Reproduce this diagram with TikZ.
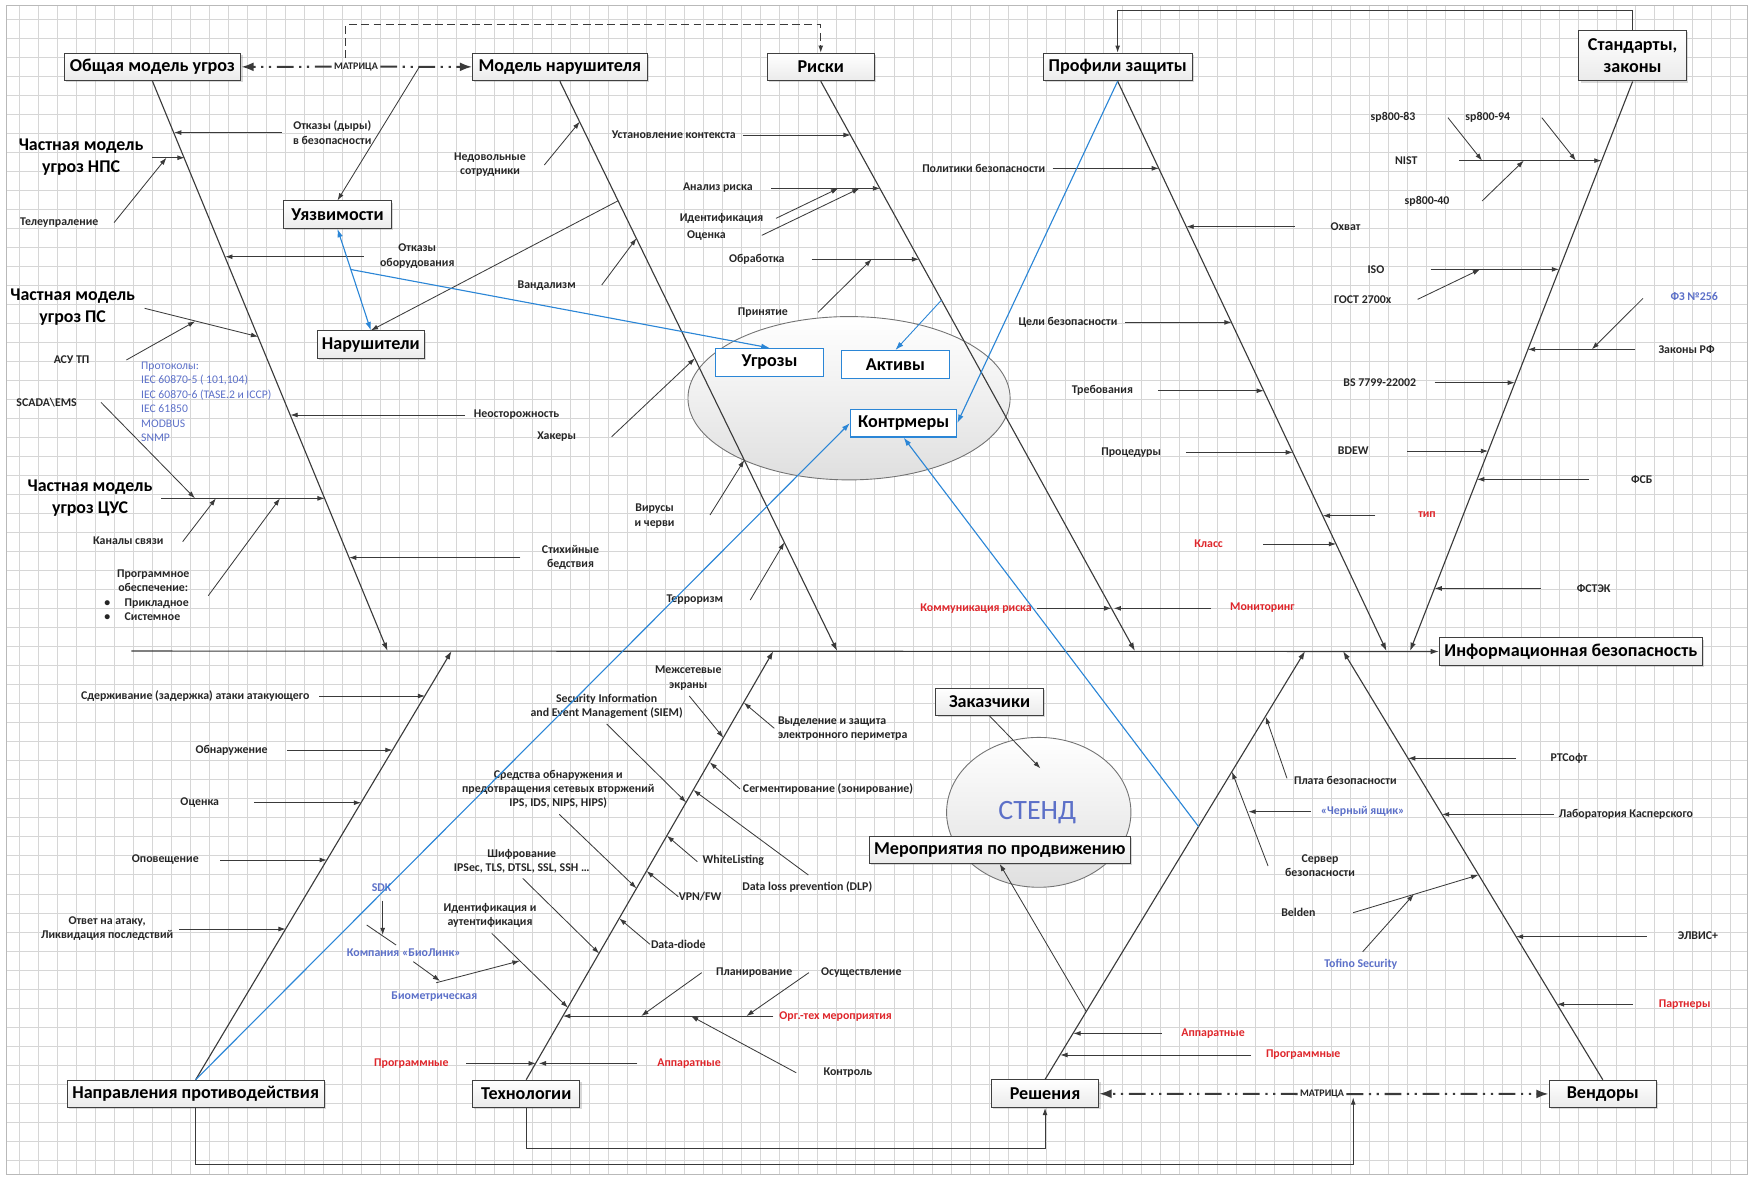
\documentclass[tikz,border=0pt]{standalone}
\usepackage{fontspec}
\setmainfont{Carlito}
\usetikzlibrary{arrows.meta,shadows,calc}
\definecolor{bone}{RGB}{58,58,58}
\definecolor{link}{RGB}{43,134,214}
\definecolor{note}{RGB}{92,112,200}
\definecolor{warn}{RGB}{222,38,43}

\begin{document}
\begin{tikzpicture}[x=1pt, y=-1pt,
    gridl/.style={draw=gray!32, line width=0.5pt},
    box/.style={draw=black!75, line width=0.9pt, top color=white, bottom color=gray!16,
                drop shadow={shadow xshift=1.6pt, shadow yshift=-1.6pt, opacity=0.3},
                minimum height=24.5pt, inner sep=1pt, font=\fontsize{16.2}{19}\selectfont\bfseries},
    keybox/.style={draw=link, line width=1pt, fill=white, minimum height=25pt, inner sep=1pt,
                font=\fontsize{16.2}{19}\selectfont\bfseries},
    big/.style={align=center, inner sep=1pt, font=\fontsize{16}{19.5}\selectfont\bfseries},
    lbl/.style={align=center, inner sep=1pt, text=black!85, font=\fontsize{10.6}{12.8}\selectfont\bfseries},
    red lbl/.style={lbl, text=warn},
    blue lbl/.style={lbl, text=note},
    mlbl/.style={inner sep=2pt, text=black!85, font=\fontsize{9}{10}\selectfont\bfseries},
    arr/.style={-{Latex[length=6.5pt,width=4.4pt]}, draw=bone, line width=0.75pt},
    rib/.style={draw=bone, line width=0.75pt},
    spine/.style={-{Latex[length=7.5pt,width=5pt]}, draw=bone, line width=1pt},
    link arr/.style={-{Latex[length=7.5pt,width=5pt]}, draw=link, line width=1pt},
    link both/.style={{Latex[length=7.5pt,width=5pt]}-{Latex[length=7.5pt,width=5pt]}, draw=link, line width=1pt},
    matr/.style={-{Latex[length=11pt,width=8pt]}, draw=bone, line width=1.8pt,
                 dash pattern=on 15pt off 5pt on 2pt off 5pt on 2pt off 5pt},
]
    \useasboundingbox (0,0) rectangle (1568,1054);
    \draw[gridl, step=17pt] (6,5) grid (1562,1050);
    \draw[gray!55, line width=0.8pt] (6,5) rectangle (1562,1050);

    \draw[draw=black!55, line width=0.8pt, top color=white, bottom color=gray!25]
        (759,356) ellipse [x radius=144pt, y radius=73pt];
    \draw[draw=black!55, line width=0.8pt, top color=white, bottom color=gray!25]
        (928.6,726.2) ellipse [x radius=82.4pt, y radius=67pt];
    \node[font=\fontsize{25}{28}\selectfont, text=note] (stend) at (927.3,726.2) {СТЕНД};

    \node[box, minimum width=158pt] (obsh) at (136.3,59.9) {Общая модель угроз};
    \node[box, minimum width=156pt] (modN) at (500.5,59.9) {Модель нарушителя};
    \node[box, minimum width=96pt] (riski) at (733.7,59.9) {Риски};
    \node[box, minimum width=133pt] (prof) at (999.1,59.9) {Профили защиты};
    \node[box, minimum width=96pt, minimum height=45pt, align=center,
          font=\fontsize{16.2}{19.5}\selectfont\bfseries] (std) at (1459.5,49.9) {Стандарты,\\законы};
    \node[box, minimum width=96pt] (uyazv) at (301.7,191.9) {Уязвимости};
    \node[box, minimum width=96pt] (narush) at (331.5,308.1) {Нарушители};
    \node[keybox, minimum width=96pt] (ugroz) at (688,324) {Угрозы};
    \node[keybox, minimum width=96pt] (aktiv) at (800.5,325.9) {Активы};
    \node[keybox, minimum width=95pt] (kontr) at (807.8,378.2) {Контрмеры};
    \node[box, minimum width=96pt] (zakaz) at (884.6,627.3) {Заказчики};
    \node[box, minimum width=233pt] (meropr) at (893.7,759.6) {Мероприятия по продвижению};
    \node[box, minimum width=235pt] (info) at (1404.3,582.4) {Информационная безопасность};
    \node[box, minimum width=230pt] (napr) at (174.9,977.9) {Направления противодействия};
    \node[box, minimum width=96pt] (tech) at (470.4,977.9) {Технологии};
    \node[box, minimum width=96pt] (resh) at (934.2,977.7) {Решения};
    \node[box, minimum width=96pt] (vend) at (1432.8,977.9) {Вендоры};

    \node[mlbl] (matrT) at (318.2,59.6) {МАТРИЦА};
    \node[mlbl] (matrB) at (1181.9,978) {МАТРИЦА};

    \node[lbl] (otkD) at (297,118.5) {Отказы (дыры)\\в безопасности};
    \node[big] (nps) at (72.5,140.7) {Частная модель\\угроз НПС};
    \node[lbl] (tele) at (53,199) {Телеупраление};
    \node[lbl] (otkO) at (373,229) {Отказы\\оборудования};
    \node[big] (ps) at (65,274.8) {Частная модель\\угроз ПС};
    \node[lbl] (asu) at (64,321.8) {АСУ ТП};
    \node[anchor=west, align=left, inner sep=0pt, text=note, font=\fontsize{10.4}{12.9}\selectfont] (proto)
        at (126,359.2) {Протоколы:\\IEC 60870-5 ( 101,104)\\IEC 60870-6 (TASE.2 и ICCP)\\IEC 61850\\MODBUS\\SNMP};
    \node[lbl] (scada) at (41.7,359.7) {SCADA\textbackslash EMS};
    \node[big] (cus) at (80.5,445) {Частная модель\\угроз ЦУС};
    \node[lbl] (kan) at (114.7,483.4) {Каналы связи};
    \node[lbl] (po) at (137,519.2) {Программное\\обеспечение:};
    \node[lbl, anchor=west, align=left] (poList) at (92,545.3)
        {\textbullet\hspace{13pt}Прикладное\\\textbullet\hspace{13pt}Системное};
    \node[lbl] (neos) at (461.8,371) {Неосторожность};
    \node[lbl] (stix) at (510,498.3) {Стихийные\\бедствия};

    \node[lbl] (nedov) at (438,147) {Недовольные\\сотрудники};
    \node[lbl] (vand) at (488.7,255.4) {Вандализм};
    \node[lbl] (hak) at (497.6,390.4) {Хакеры};
    \node[lbl] (vir) at (585.2,461.4) {Вирусы\\и черви};
    \node[lbl] (terr) at (621.1,536.4) {Терроризм};

    \node[lbl] (ustk) at (602.4,120.7) {Установление контекста};
    \node[lbl] (anal) at (641.7,167.5) {Анализ риска};
    \node[lbl] (ident) at (645,195.2) {Идентификация};
    \node[lbl] (ocen) at (631.4,210.4) {Оценка};
    \node[lbl] (obr) at (676.6,231.8) {Обработка};
    \node[lbl] (prin) at (682,279.2) {Принятие};
    \node[red lbl] (komm) at (872.6,543.8) {Коммуникация риска};
    \node[red lbl] (monit) at (1128.5,543.3) {Мониторинг};

    \node[lbl] (polit) at (879.4,150.5) {Политики безопасности};
    \node[lbl] (ohv) at (1202.9,202.6) {Охват};
    \node[lbl] (celi) at (954.7,288.2) {Цели безопасности};
    \node[lbl] (treb) at (985.5,349.3) {Требования};
    \node[lbl] (proc) at (1011.2,404.7) {Процедуры};
    \node[red lbl] (tip) at (1275.7,460.4) {тип};
    \node[red lbl] (klass) at (1080.4,485.7) {Класс};

    \node[lbl] (sp83) at (1245.3,105.2) {sp800-83};
    \node[lbl] (sp94) at (1330,105.2) {sp800-94};
    \node[lbl] (nist) at (1257.1,143.6) {NIST};
    \node[lbl] (sp40) at (1275.7,179.7) {sp800-40};
    \node[lbl] (iso) at (1230,240.8) {ISO};
    \node[lbl] (gost) at (1218.2,267.6) {ГОСТ 2700x};
    \node[blue lbl] (fz) at (1514.5,265.2) {ФЗ №256};
    \node[lbl] (zak) at (1507.7,312.3) {Законы РФ};
    \node[lbl] (bs) at (1233.4,342.1) {BS 7799-22002};
    \node[lbl] (bdew) at (1209.7,403.2) {BDEW};
    \node[lbl] (fsb) at (1467.7,428.5) {ФСБ};
    \node[lbl] (fstek) at (1424.7,526) {ФСТЭК};

    \node[lbl] (sder) at (174.5,622.2) {Сдерживание (задержка) атаки атакующего};
    \node[lbl] (obn) at (207,670.5) {Обнаружение};
    \node[lbl] (ocenN) at (178.6,717.6) {Оценка};
    \node[lbl] (opov) at (147.8,768.8) {Оповещение};
    \node[lbl] (otv) at (95.8,830.3) {Ответ на атаку,\\Ликвидация последствий};

    \node[lbl] (mezh) at (615.3,606.2) {Межсетевые\\экраны};
    \node[lbl, anchor=west, align=left] (vyd) at (694.3,651.2) {Выделение и защита\\электронного периметра};
    \node[lbl] (siem) at (542.3,631.5) {Security Information\\and Event Management (SIEM)};
    \node[lbl, anchor=west] (segm) at (663,705.3) {Сегментирование (зонирование)};
    \node[lbl] (sredst) at (499.1,705.7) {Средства обнаружения и\\предотвращения сетевых вторжений\\IPS, IDS, NIPS, HIPS)};
    \node[lbl] (dlp) at (721.7,792.7) {Data loss prevention (DLP)};
    \node[lbl] (white) at (655.6,768.8) {WhiteListing};
    \node[lbl] (shifr) at (466.4,770) {Шифрование\\IPSec, TLS, DTSL, SSL, SSH \dots};
    \node[lbl] (vpn) at (625.8,801.6) {VPN/FW};
    \node[lbl] (diode) at (606.4,844.2) {Data-diode};
    \node[lbl] (idaut) at (438,818.5) {Идентификация и\\аутентификация};
    \node[red lbl] (orgt) at (747,908.3) {Орг.-тех мероприятия};
    \node[lbl] (plan) at (674.2,869.5) {Планирование};
    \node[lbl] (osus) at (770,869.5) {Осуществление};
    \node[lbl] (ctrl) at (758,958.4) {Контроль};
    \node[red lbl] (progL) at (367.8,950.6) {Программные};
    \node[red lbl] (appL) at (616,950.6) {Аппаратные};
    \node[blue lbl] (sdk) at (341.1,793.2) {SDK};
    \node[blue lbl] (biol) at (361,851.7) {Компания «БиоЛинк»};
    \node[blue lbl] (biom) at (388.3,891) {Биометрическая};

    \node[red lbl] (appR) at (1084.4,923.8) {Аппаратные};
    \node[red lbl] (progR) at (1165,943.1) {Программные};
    \node[lbl, anchor=west] (plata) at (1155.6,697.3) {Плата безопасности};
    \node[blue lbl] (cher) at (1218.2,725.6) {«Черный ящик»};
    \node[lbl] (serv) at (1180,774) {Сервер\\безопасности};

    \node[lbl] (rts) at (1402.7,677.9) {РТСофт};
    \node[lbl] (kasp) at (1453.5,728) {Лаборатория Касперского};
    \node[lbl] (beld) at (1160.7,815.9) {Belden};
    \node[blue lbl] (tofino) at (1216.5,862.1) {Tofino Security};
    \node[lbl] (elvis) at (1517.9,836.8) {ЭЛВИС+};
    \node[red lbl] (partn) at (1506,897.8) {Партнеры};

    \coordinate (sp0) at (117.4,582);
    \coordinate (b1e) at (346.5,582);
    \coordinate (b2e) at (748.4,582);
    \coordinate (b3e) at (1014.6,582);
    \coordinate (b4e) at (1239.5,582);
    \coordinate (b5e) at (1260.5,582);
    \coordinate (c1e) at (403.7,582);
    \coordinate (c2e) at (691.3,582);
    \coordinate (c3e) at (1166.7,582);
    \coordinate (c4e) at (1200.6,582);

    \coordinate (otkDa) at (252,118.5);   \coordinate (otkDb) at (155.6,118.5);
    \coordinate (npsa) at (136,141);      \coordinate (npsb) at (165.1,141);
    \coordinate (telea) at (102,199);     \coordinate (teleb) at (148.8,141);
    \coordinate (otkOa) at (325,229.5);   \coordinate (otkOb) at (201.3,229.5);
    \coordinate (psa) at (129.3,275.6);   \coordinate (psb) at (230.8,301);
    \coordinate (asua) at (113,321.8);    \coordinate (asub) at (174.5,287.2);
    \coordinate (scadaa) at (90.3,359.7); \coordinate (scadab) at (174.3,445.5);
    \coordinate (cusa) at (144,445.5);    \coordinate (cusb) at (290.3,445.5);
    \coordinate (kana) at (163.3,484.2);  \coordinate (kanb) at (193,445.5);
    \coordinate (poa) at (186.2,532.5);   \coordinate (pob) at (250.3,445.5);
    \coordinate (neosa) at (415.7,371);   \coordinate (neosb) at (259.6,371);
    \coordinate (stixa) at (465.2,498.5); \coordinate (stixb) at (312.1,498.5);

    \coordinate (mvul) at (375,59.6);
    \coordinate (dsh) at (309,52);        \coordinate (dshc) at (733.7,22);
    \coordinate (stdc) at (999.1,9.5);

    \coordinate (nedova) at (486.6,147.5); \coordinate (nedovb) at (518.3,108.8);
    \coordinate (narb) at (552.7,179.4);
    \coordinate (vanda) at (537.9,254.8);  \coordinate (vandb) at (569,213);
    \coordinate (haka) at (546.8,390.4);   \coordinate (hakb) at (621.2,320.3);
    \coordinate (vira) at (634.7,460.4);   \coordinate (virb) at (665.4,411.2);
    \coordinate (terra) at (670.7,536.4);  \coordinate (terrb) at (701.2,484.8);

    \coordinate (ustka) at (663.9,120.7);  \coordinate (ustkb) at (760.5,120.7);
    \coordinate (anala) at (689.6,168.4);  \coordinate (analb) at (786.8,168.4);
    \coordinate (identa) at (693.7,195.2); \coordinate (identb) at (749.4,168.4);
    \coordinate (ocena) at (681,210.4);    \coordinate (ocenb) at (768.3,168.4);
    \coordinate (obra) at (725.5,231.8);   \coordinate (obrb) at (821.7,231.8);
    \coordinate (prina) at (731.3,279.2);  \coordinate (prinb) at (779.2,231.8);
    \coordinate (aktb) at (841.7,268.2);
    \coordinate (komma) at (927.3,543.8);  \coordinate (kommb) at (993.6,543.8);
    \coordinate (monita) at (1082.7,543.8); \coordinate (monitb) at (995.6,543.8);

    \coordinate (polita) at (941,150.5);   \coordinate (politb) at (1036.1,150.5);
    \coordinate (ohva) at (1157.3,202.6);  \coordinate (ohvb) at (1060.6,202.6);
    \coordinate (celia) at (1006,288.2);   \coordinate (celib) at (1101,288.2);
    \coordinate (treba) at (1035,349.3);   \coordinate (trebb) at (1129.8,349.3);
    \coordinate (proca) at (1060.1,404.4); \coordinate (procb) at (1155.8,404.4);
    \coordinate (tipa) at (1229.4,461);    \coordinate (tipb) at (1182.5,461);
    \coordinate (klassa) at (1129.1,486.3); \coordinate (klassb) at (1194.4,486.3);

    \coordinate (sp83a) at (1294.4,105.2); \coordinate (sp83b) at (1324.9,143.6);
    \coordinate (sp94a) at (1378.3,105.2); \coordinate (sp94b) at (1408.8,143.6);
    \coordinate (nista) at (1304.5,143.6); \coordinate (nistb) at (1431.7,143.6);
    \coordinate (sp40a) at (1324.9,179.7); \coordinate (sp40b) at (1362.2,143.6);
    \coordinate (isoa) at (1279,240.8);    \coordinate (isob) at (1393.7,240.8);
    \coordinate (gosta) at (1267.3,267.6); \coordinate (gostb) at (1323.1,240.8);
    \coordinate (fza) at (1468.8,266.7);   \coordinate (fzb) at (1423,312.3);
    \coordinate (zaka) at (1462,312.3);    \coordinate (zakb) at (1365.8,312.3);
    \coordinate (bsa) at (1282.5,342.1);   \coordinate (bsb) at (1354.2,342.1);
    \coordinate (bdewa) at (1257.8,403.2); \coordinate (bdewb) at (1330.3,403.2);
    \coordinate (fsba) at (1420.7,428.5);  \coordinate (fsbb) at (1320.4,428.5);
    \coordinate (fsteka) at (1377.4,526);  \coordinate (fstekb) at (1282.4,526);

    \coordinate (sdera) at (285.6,622.2);  \coordinate (sderb) at (380,622.2);
    \coordinate (obna) at (256.6,670.5);   \coordinate (obnb) at (350.9,670.5);
    \coordinate (ocenNa) at (227.5,717.6); \coordinate (ocenNb) at (322.8,717.6);
    \coordinate (opova) at (196.7,768.8);  \coordinate (opovb) at (292.2,768.8);
    \coordinate (otva) at (160.1,830.5);   \coordinate (otvb) at (255.4,830.5);

    \coordinate (mezha) at (616.2,622.2);  \coordinate (mezhb) at (646.7,659.5);
    \coordinate (vyda) at (692.2,651.1);   \coordinate (vydb) at (665,628.2);
    \coordinate (siema) at (542.3,647.2);  \coordinate (siemb) at (613.4,717.3);
    \coordinate (segma) at (661.5,705.3);  \coordinate (segmb) at (634.5,681.5);
    \coordinate (sredsta) at (500,728);    \coordinate (sredstb) at (569,794.1);
    \coordinate (dlpa) at (722.6,782.2);   \coordinate (dlpb) at (619.8,706.2);
    \coordinate (whitea) at (623.4,770.3); \coordinate (whiteb) at (596.2,747.1);
    \coordinate (shifra) at (467.3,785.2); \coordinate (shifrb) at (535.6,852.3);
    \coordinate (vpna) at (606.4,801.6);   \coordinate (vpnb) at (578,778.7);
    \coordinate (diodea) at (581.1,844.2); \coordinate (diodeb) at (553.6,821);
    \coordinate (idauta) at (439.6,834.4); \coordinate (idautb) at (507.7,900.8);
    \coordinate (orgta) at (691.3,908.3);  \coordinate (orgtb) at (503.3,908.3);
    \coordinate (plana) at (627.3,869.5);  \coordinate (planb) at (573.2,908.3);
    \coordinate (osusa) at (723.1,869.5);  \coordinate (osusb) at (667.3,908.3);
    \coordinate (ctrla) at (711.8,959);    \coordinate (ctrlb) at (617.7,908.3);
    \coordinate (progLa) at (416.7,950.6); \coordinate (progLb) at (479,950.6);
    \coordinate (appLa) at (569.8,950.6);  \coordinate (appLb) at (481.6,950.6);
    \coordinate (sdka) at (342.1,805.2);   \coordinate (sdkb) at (342.1,835.9);
    \coordinate (biola) at (327.8,826.9);  \coordinate (biolb) at (354.1,844.8);
    \coordinate (bioma) at (369.5,859.7);  \coordinate (biomb) at (393.4,877);
    \coordinate (bioca) at (390,878.5);    \coordinate (biocb) at (464.6,859);

    \coordinate (mera) at (971.2,904.4);
    \coordinate (appRa) at (1038.5,923.8); \coordinate (appRb) at (959.5,923.8);
    \coordinate (progRa) at (1118.4,943.1); \coordinate (progRb) at (947.8,943.1);
    \coordinate (cmr) at (1071.5,739);
    \coordinate (plataa) at (1150.5,695.8); \coordinate (platab) at (1131.5,640.7);
    \coordinate (serva) at (1133.6,774.2); \coordinate (servb) at (1101.3,689.9);
    \coordinate (chera) at (1171.8,725.6); \coordinate (cherb) at (1116,725.6);
    \coordinate (zakazb) at (930.1,686.9);

    \coordinate (rtsa) at (1355.3,677.9);  \coordinate (rtsb) at (1258.7,677.9);
    \coordinate (kaspa) at (1389.2,728);   \coordinate (kaspb) at (1289,728);
    \coordinate (belda) at (1209.7,815.9); \coordinate (beldb) at (1321.5,782.2);
    \coordinate (tofa) at (1218.2,850.8);  \coordinate (tofb) at (1263.9,799.5);
    \coordinate (elvisa) at (1472.2,837.3); \coordinate (elvisb) at (1355.2,837.3);
    \coordinate (partna) at (1459.7,897.8); \coordinate (partnb) at (1391.8,897.8);

    \coordinate (nBot) at (1209.7,1040.6); \coordinate (mB) at (1209.7,981);
    \coordinate (tBot) at (934.2,1026.6);

    \draw[spine] (sp0) -- (info.west);
    \draw[spine] (obsh.south) -- (b1e);
    \draw[spine] (modN.south) -- (b2e);
    \draw[spine] (riski.south) -- (b3e);
    \draw[spine] (prof.south) -- (b4e);
    \draw[spine] (std.south) -- (b5e);
    \draw[spine] (napr.north) -- (c1e);
    \draw[spine] (tech.north) -- (c2e);
    \draw[spine] (resh.north) -- (c3e);
    \draw[spine] (vend.north) -- (c4e);

    \draw[matr] (matrT) -- (obsh);
    \draw[matr] (matrT) -- (modN);
    \draw[matr] (matrB) -- (resh);
    \draw[matr] (matrB) -- (vend);
    \draw[arr, line width=0.9pt, dash pattern=on 7pt off 4pt] (dsh) |- (dshc) -- (riski.north);
    \draw[arr, line width=0.9pt] (std.north) |- (stdc) -- (prof.north);
    \draw[arr] (mvul) -- (uyazv.north);
    \draw[arr] (narb) -- (narush.north);
    \draw[arr, line width=0.9pt] (napr.south) |- (nBot) -- (mB);
    \draw[arr, line width=0.9pt] (tech.south) |- (tBot) -- (resh.south);

    \draw[arr] (otkDa) -- (otkDb);
    \draw[arr] (npsa) -- (npsb);
    \draw[arr] (telea) -- (teleb);
    \draw[arr] (otkOa) -- (otkOb);
    \draw[arr] (psa) -- (psb);
    \draw[arr] (asua) -- (asub);
    \draw[arr] (scadaa) -- (scadab);
    \draw[arr] (cusa) -- (cusb);
    \draw[arr] (kana) -- (kanb);
    \draw[arr] (poa) -- (pob);
    \draw[arr] (neosa) -- (neosb);
    \draw[arr] (stixa) -- (stixb);

    \draw[arr] (nedova) -- (nedovb);
    \draw[arr] (vanda) -- (vandb);
    \draw[arr] (haka) -- (hakb);
    \draw[arr] (vira) -- (virb);
    \draw[arr] (terra) -- (terrb);

    \draw[arr] (ustka) -- (ustkb);
    \draw[arr] (anala) -- (analb);
    \draw[arr] (identa) -- (identb);
    \draw[arr] (ocena) -- (ocenb);
    \draw[arr] (obra) -- (obrb);
    \draw[arr] (prina) -- (prinb);
    \draw[arr] (komma) -- (kommb);
    \draw[arr] (monita) -- (monitb);

    \draw[arr] (polita) -- (politb);
    \draw[arr] (ohva) -- (ohvb);
    \draw[arr] (celia) -- (celib);
    \draw[arr] (treba) -- (trebb);
    \draw[arr] (proca) -- (procb);
    \draw[arr] (tipa) -- (tipb);
    \draw[arr] (klassa) -- (klassb);

    \draw[arr] (sp83a) -- (sp83b);
    \draw[arr] (sp94a) -- (sp94b);
    \draw[arr] (nista) -- (nistb);
    \draw[arr] (sp40a) -- (sp40b);
    \draw[arr] (isoa) -- (isob);
    \draw[arr] (gosta) -- (gostb);
    \draw[arr] (fza) -- (fzb);
    \draw[arr] (zaka) -- (zakb);
    \draw[arr] (bsa) -- (bsb);
    \draw[arr] (bdewa) -- (bdewb);
    \draw[arr] (fsba) -- (fsbb);
    \draw[arr] (fsteka) -- (fstekb);

    \draw[arr] (sdera) -- (sderb);
    \draw[arr] (obna) -- (obnb);
    \draw[arr] (ocenNa) -- (ocenNb);
    \draw[arr] (opova) -- (opovb);
    \draw[arr] (otva) -- (otvb);

    \draw[arr] (mezha) -- (mezhb);
    \draw[arr] (vyda) -- (vydb);
    \draw[arr] (siema) -- (siemb);
    \draw[arr] (segma) -- (segmb);
    \draw[arr] (sredsta) -- (sredstb);
    \draw[arr] (dlpa) -- (dlpb);
    \draw[arr] (whitea) -- (whiteb);
    \draw[arr] (shifra) -- (shifrb);
    \draw[arr] (vpna) -- (vpnb);
    \draw[arr] (diodea) -- (diodeb);
    \draw[arr] (idauta) -- (idautb);
    \draw[arr] (orgta) -- (orgtb);
    \draw[arr] (plana) -- (planb);
    \draw[arr] (osusa) -- (osusb);
    \draw[arr] (ctrla) -- (ctrlb);
    \draw[arr] (progLa) -- (progLb);
    \draw[arr] (appLa) -- (appLb);
    \draw[arr] (sdka) -- (sdkb);
    \draw[rib] (biola) -- (biolb);
    \draw[arr] (bioma) -- (biomb);
    \draw[arr] (bioca) -- (biocb);

    \draw[arr] (mera) -- (meropr.south);
    \draw[arr] (appRa) -- (appRb);
    \draw[arr] (progRa) -- (progRb);
    \draw[arr] (plataa) -- (platab);
    \draw[arr] (serva) -- (servb);
    \draw[arr] (chera) -- (cherb);
    \draw[arr] (zakaz.south) -- (zakazb);

    \draw[arr] (rtsa) -- (rtsb);
    \draw[arr] (kaspa) -- (kaspb);
    \draw[arr] (belda) -- (beldb);
    \draw[arr] (tofa) -- (tofb);
    \draw[arr] (elvisa) -- (elvisb);
    \draw[arr] (partna) -- (partnb);

    \draw[link both] (uyazv.south) -- (narush.north);
    \draw[link arr] ($(uyazv.south)!0.4!(narush.north)$) -- (ugroz.north);
    \draw[link arr, line width=0.8pt] (aktb) -- (aktiv.north);
    \draw[link arr] (prof.south) -- (kontr.east);
    \draw[link arr] (napr.north) -- (kontr.west);
    \draw[link arr] (cmr) -- (kontr.south);
\end{tikzpicture}
\end{document}
